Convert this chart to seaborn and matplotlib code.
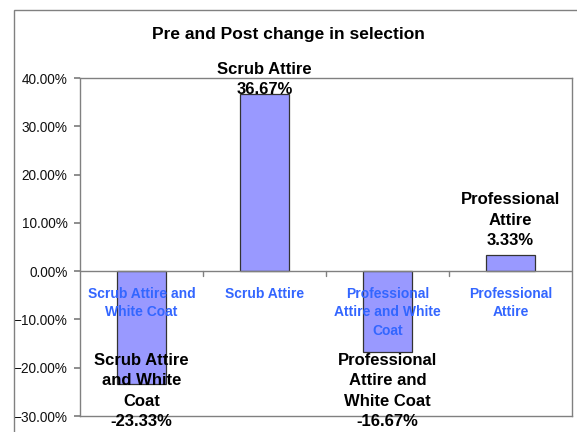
import matplotlib.pyplot as plt
import seaborn as sns
import pandas as pd
from matplotlib.patches import Rectangle
from matplotlib.ticker import PercentFormatter

sns.set_theme(style="white")
plt.rcParams['font.family'] = ['Liberation Sans', 'DejaVu Sans']

# Data
categories = ['Scrub Attire and\nWhite Coat', 'Scrub Attire',
              'Professional\nAttire and White\nCoat', 'Professional\nAttire']
label_names = ['Scrub Attire\nand White\nCoat', 'Scrub Attire',
               'Professional\nAttire and\nWhite Coat', 'Professional\nAttire']
changes = [-23.33, 36.67, -16.67, 3.33]

df = pd.DataFrame({'Category': categories, 'Change': changes})

fig = plt.figure(figsize=(5.77, 4.32), dpi=100)
ax = fig.add_axes([0.139, 0.037, 0.852, 0.782])

sns.barplot(data=df, x='Category', y='Change', color='#9999FF', width=0.4,
            saturation=1, edgecolor='#333333', linewidth=0.9, ax=ax)

ax.set_ylim(-30, 40)
ax.set_xlim(-0.5, 3.5)
ax.set_yticks(range(-30, 41, 10))
ax.yaxis.set_major_formatter(PercentFormatter(decimals=2))
ax.set_xlabel('')
ax.set_ylabel('')
for s in ax.spines.values():
    s.set_color('#808080')
    s.set_linewidth(1)
ax.tick_params(axis='y', left=True, length=4, color='#808080', labelsize=9.8,
               labelcolor='#111111', pad=5)

# zero line with category boundary ticks
ax.axhline(0, color='#808080', linewidth=1, zorder=1)
ax.set_xticks([])
for b in [0.5, 1.5, 2.5]:
    ax.plot([b, b], [0, -1], color='#808080', linewidth=1, clip_on=False)

# category labels under the zero line
for i, cat in enumerate(categories):
    ax.text(i, -3.2, cat, ha='center', va='top', fontsize=10, fontweight='bold',
            color='#3366FF', linespacing=1.42, zorder=5)

# data labels (Excel pushes labels that would leave the chart back inside)
for i, (name, v) in enumerate(zip(label_names, changes)):
    txt = f"{name}\n{v:.2f}%"
    if v >= 0:
        ax.text(i, min(v + 1.5, 36.0), txt, ha='center', va='bottom', fontsize=12,
                fontweight='bold', color='black', linespacing=1.45, clip_on=False, zorder=6)
    else:
        ax.text(i, max(v, -16.6) - 0.3, txt, ha='center', va='top', fontsize=12,
                fontweight='bold', color='black', linespacing=1.45, clip_on=False, zorder=6)

fig.text(0.5, 0.919, 'Pre and Post change in selection', ha='center', va='center',
         fontsize=12.5, fontweight='bold', color='black')

# outer chart border
fig.patches.append(Rectangle((14 / 577, -0.05), 1.1, 1 - 10 / 432 + 0.05,
                             transform=fig.transFigure, fill=False,
                             edgecolor='#808080', linewidth=1))

fig.savefig('out.png', dpi=100)
